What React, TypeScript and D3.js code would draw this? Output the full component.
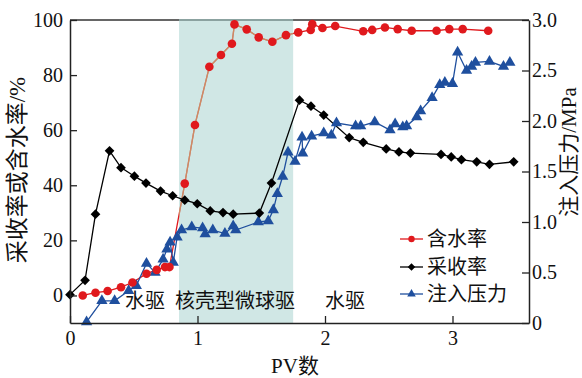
import React, { useEffect, useRef } from "react";
import * as d3 from "d3";

// 含水率 (%) vs PV
const waterCutPV = [0.1, 0.2, 0.295, 0.4, 0.49, 0.6, 0.68, 0.745, 0.78, 0.9, 0.98, 1.093, 1.184, 1.27, 1.29, 1.386, 1.48, 1.587, 1.694, 1.79, 1.888, 1.9, 1.98, 2.08, 2.3, 2.37, 2.47, 2.57, 2.68, 2.875, 2.975, 3.08, 3.28];
const waterCut = [0, 1, 1.6, 3, 4.7, 7.9, 9.3, 10.3, 10.3, 40.6, 61.9, 83, 87.3, 91.4, 98.4, 96.6, 93.7, 92.1, 94.5, 95.5, 96.4, 98.5, 97.1, 97.8, 95.9, 96.4, 97.3, 96.7, 96.1, 96.1, 96.7, 96.7, 96.1];

// 采收率 (%) vs PV
const recoveryPV = [0.0, 0.118, 0.2, 0.31, 0.4, 0.505, 0.596, 0.71, 0.805, 0.9, 0.998, 1.1, 1.2, 1.28, 1.485, 1.58, 1.8, 1.89, 1.99, 2.19, 2.3, 2.48, 2.58, 2.67, 2.91, 2.99, 3.07, 3.19, 3.29, 3.48];
const recovery = [0.3, 5.5, 29.5, 52.5, 46.4, 43.3, 40.8, 37.9, 36.2, 34.6, 33.3, 30.7, 30.1, 29.5, 29.9, 40.8, 70.9, 68.7, 65.5, 57.3, 55.6, 53.2, 52.1, 51.7, 51.2, 50.3, 49.3, 48.5, 47.6, 48.5];

// 注入压力 (MPa) vs PV
const pressurePV = [0.13, 0.25, 0.35, 0.46, 0.52, 0.6, 0.667, 0.73, 0.76, 0.785, 0.81, 0.84, 0.875, 0.955, 1.04, 1.06, 1.12, 1.215, 1.28, 1.3, 1.477, 1.555, 1.595, 1.626, 1.668, 1.71, 1.765, 1.82, 1.825, 1.895, 1.99, 2.05, 2.09, 2.24, 2.28, 2.39, 2.51, 2.55, 2.61, 2.64, 2.72, 2.75, 2.84, 2.9, 2.94, 3.0, 3.04, 3.11, 3.15, 3.18, 3.29, 3.4, 3.45];
const pressure = [0.01, 0.22, 0.22, 0.32, 0.37, 0.59, 0.5, 0.63, 0.73, 0.8, 0.6, 0.85, 0.92, 0.95, 0.94, 0.88, 0.92, 0.885, 0.96, 0.92, 1.0, 1.01, 1.12, 1.28, 1.45, 1.69, 1.6, 1.84, 1.68, 1.85, 1.88, 1.86, 1.98, 1.95, 1.95, 1.99, 1.91, 1.97, 1.94, 1.95, 2.04, 2.1, 2.23, 2.36, 2.38, 2.37, 2.68, 2.5, 2.54, 2.58, 2.59, 2.54, 2.58];

const xTicks = [0, 1, 2, 3];
const leftTicks = [0, 20, 40, 60, 80, 100];
const rightTicks = [0, 0.5, 1.0, 1.5, 2.0, 2.5, 3.0];
const shadeRange = [0.855, 1.75];
const stageLabels = ["水驱", "核壳型微球驱", "水驱"];
const legendLabels = ["含水率", "采收率", "注入压力"];

const FONT = "'Liberation Serif', 'Times New Roman', 'DejaVu Serif', 'Noto Sans CJK SC', serif";
const RED = "#e0191d";
const BLACK = "#000";
const BLUE = "#1f4f9e";

const App = () => {
  const svgRef = useRef<SVGSVGElement>(null);

  useEffect(() => {
    const width = 582;
    const height = 378;
    const m = { left: 70, right: 53, top: 20, bottom: 55 };

    const svg = d3.select(svgRef.current);
    svg.selectAll("*").remove();
    svg.attr("width", width).attr("height", height).style("font-family", FONT);

    const x = d3.scaleLinear().domain([0, 3.6]).range([m.left, width - m.right]);
    const yL = d3.scaleLinear().domain([-10, 100]).range([height - m.bottom, m.top]);
    const yR = d3.scaleLinear().domain([0, 3]).range([height - m.bottom, m.top]);

    const x0 = m.left;
    const x1 = width - m.right;
    const y0 = height - m.bottom;
    const y1 = m.top;

    // frame top line (grey)
    svg.append("line").attr("x1", x0).attr("x2", x1).attr("y1", y1).attr("y2", y1)
      .attr("stroke", "#666").attr("stroke-width", 2);

    const wc = waterCutPV.map((d, i) => [d, waterCut[i]] as [number, number]);
    const rc = recoveryPV.map((d, i) => [d, recovery[i]] as [number, number]);
    const pr = pressurePV.map((d, i) => [d, pressure[i]] as [number, number]);

    const lineL = d3.line<[number, number]>().x((d) => x(d[0])).y((d) => yL(d[1]));
    const lineR = d3.line<[number, number]>().x((d) => x(d[0])).y((d) => yR(d[1]));

    // red line under shading
    svg.append("path").attr("d", lineL(wc)).attr("fill", "none").attr("stroke", RED).attr("stroke-width", 1.3);

    // shaded stage
    svg.append("rect")
      .attr("x", x(shadeRange[0])).attr("width", x(shadeRange[1]) - x(shadeRange[0]))
      .attr("y", y1 - 1).attr("height", y0 - y1 + 1)
      .attr("fill", "#a9d3cf").attr("fill-opacity", 0.55);

    // tan part of red line in shade
    svg.append("clipPath").attr("id", "shadeClip").append("rect")
      .attr("x", x(shadeRange[0])).attr("width", x(shadeRange[1]) - x(shadeRange[0]))
      .attr("y", y1).attr("height", y0 - y1);
    svg.append("path").attr("d", lineL(wc)).attr("clip-path", "url(#shadeClip)")
      .attr("fill", "none").attr("stroke", "#d08a62").attr("stroke-width", 1.3);

    svg.append("path").attr("d", lineL(rc)).attr("fill", "none").attr("stroke", BLACK).attr("stroke-width", 1.3);
    svg.append("path").attr("d", lineR(pr)).attr("fill", "none").attr("stroke", BLUE).attr("stroke-width", 1.3);

    const diamond = d3.symbol().type(d3.symbolDiamond2).size(60);
    const tri = d3.symbol().type(d3.symbolTriangle).size(55);

    svg.append("g").selectAll("path").data(pr).join("path")
      .attr("transform", (d) => `translate(${x(d[0])},${yR(d[1])})`)
      .attr("d", tri).attr("fill", BLUE);
    svg.append("g").selectAll("path").data(rc).join("path")
      .attr("transform", (d) => `translate(${x(d[0])},${yL(d[1])})`)
      .attr("d", diamond).attr("fill", BLACK);
    svg.append("g").selectAll("circle").data(wc).join("circle")
      .attr("cx", (d) => x(d[0])).attr("cy", (d) => yL(d[1])).attr("r", 4.3).attr("fill", RED);

    // axes (ticks inward)
    const axisStyle = (g) => {
      g.attr("font-family", null);
      g.select(".domain").attr("stroke", "#222").attr("stroke-width", 1.5);
      g.selectAll(".tick line").attr("stroke", "#222").attr("stroke-width", 1.3);
      g.selectAll(".tick text").style("font-family", FONT).attr("font-size", 20).attr("fill", "#111");
    };

    svg.append("g").attr("transform", `translate(0,${y0})`)
      .call(d3.axisBottom(x).tickValues(xTicks).tickFormat(d3.format("d")).tickSizeInner(-7).tickSizeOuter(0).tickPadding(8))
      .call(axisStyle);
    svg.append("g").attr("transform", `translate(${x0},0)`)
      .call(d3.axisLeft(yL).tickValues(leftTicks).tickFormat(d3.format("d")).tickSizeInner(-7).tickSizeOuter(0).tickPadding(7))
      .call(axisStyle);
    svg.append("g").attr("transform", `translate(${x1},0)`)
      .call(d3.axisRight(yR).tickValues(rightTicks).tickFormat((d) => (d === 0 ? "0" : d3.format(".1f")(d))).tickSizeInner(-7).tickSizeOuter(0).tickPadding(3))
      .call(axisStyle);

    // stage labels
    const stageX = [125, 175, 325];
    svg.append("g").selectAll("text").data(stageLabels).join("text")
      .attr("x", (d, i) => stageX[i]).attr("y", 308)
      .attr("font-size", 20).attr("fill", "#111")
      .text((d) => d);

    // axis titles
    svg.append("text").attr("x", 295).attr("y", 373)
      .attr("text-anchor", "middle").attr("font-size", 21).attr("fill", "#111")
      .text("PV数");
    svg.append("text").attr("transform", `translate(25,170) rotate(-90)`)
      .attr("text-anchor", "middle").attr("font-size", 23).attr("fill", "#111")
      .text("采收率或含水率/%");
    svg.append("text").attr("transform", `translate(576,152) rotate(-90)`)
      .attr("text-anchor", "middle").attr("font-size", 21).attr("fill", "#111")
      .text("注入压力/MPa");

    // legend
    const legY = [239, 267, 294];
    const leg = svg.append("g");
    legendLabels.forEach((label, i) => {
      const color = [RED, BLACK, BLUE][i];
      const g = leg.append("g").attr("transform", `translate(0,${legY[i]})`);
      g.append("line").attr("x1", 400).attr("x2", 423).attr("stroke", color).attr("stroke-width", 1.3);
      const cx = 411.5;
      if (i === 0) g.append("circle").attr("cx", cx).attr("r", 3.2).attr("fill", color);
      if (i === 1) g.append("path").attr("transform", `translate(${cx},0)`).attr("d", d3.symbol().type(d3.symbolDiamond2).size(36)).attr("fill", color);
      if (i === 2) g.append("path").attr("transform", `translate(${cx},0)`).attr("d", d3.symbol().type(d3.symbolTriangle).size(32)).attr("fill", color);
      g.append("text").attr("x", 427).attr("y", 7).attr("font-size", 20).attr("fill", "#111").text(label);
    });
  }, []);

  return (
    <div style={{ position: "absolute", left: 0, top: 0 }}>
      <svg ref={svgRef} style={{ display: "block", background: "#fff" }}></svg>
    </div>
  );
};

export default App;
